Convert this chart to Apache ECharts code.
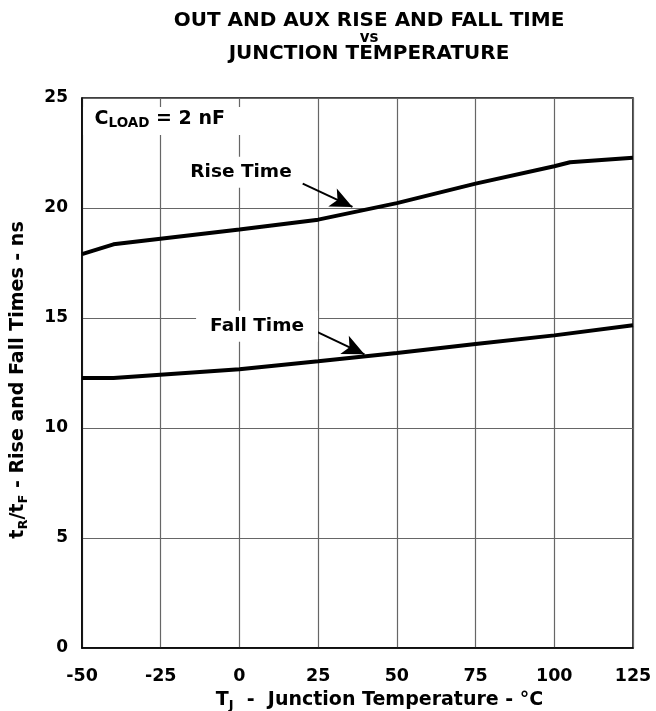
<!DOCTYPE html>
<html>
<head>
<meta charset="utf-8">
<script src="https://cdn.jsdelivr.net/npm/echarts@6/dist/echarts.min.js"></script>
<style>
html,body{margin:0;padding:0;background:#fff;}
#chart{width:656px;height:711px;}
</style>
</head>
<body>
<div id="chart"></div>
<script>
// Data
const temps = [-50, -40, 0, 25, 50, 75, 100, 105, 125];
const riseTime = [17.9, 18.35, 19.02, 19.47, 20.22, 21.11, 21.9, 22.08, 22.28];
const fallTemps = [-50, -40, 0, 25, 50, 75, 100, 125];
const fallTime = [12.27, 12.27, 12.67, 13.03, 13.41, 13.82, 14.21, 14.67];
const xTicks = [-50, -25, 0, 25, 50, 75, 100, 125];
const yTicks = [0, 5, 10, 15, 20, 25];

// annotation anchors (data coordinates)
const riseLabelAt = [0.5, 21.62];
const fallLabelAt = [5.6, 14.62];
const loadLabelAt = [-25.3, 24.05];
const loadBox = [[-49.6, 24.59], [5, 23.32]];
const riseArrow = [[20.1, 21.11], [35.9, 20.05]];
const fallArrow = [[24.3, 14.39], [39.7, 13.35]];

const FONT = '"DejaVu Sans", "Liberation Sans", Arial, sans-serif';
const chart = echarts.init(document.getElementById('chart'));

const annotLabel = {
  show: true, color: '#000', fontFamily: FONT, fontWeight: 'bold', fontSize: 18.5,
  backgroundColor: '#fff', padding: [6, 10]
};
const nameRich = {
  n: {fontFamily: FONT, fontWeight: 'bold', fontSize: 19, color: '#000', lineHeight: 24},
  s: {fontFamily: FONT, fontWeight: 'bold', fontSize: 13, color: '#000', lineHeight: 24, verticalAlign: 'bottom', padding: [9, 0, 0, 0]}
};

chart.setOption({
  animation: false,
  backgroundColor: '#fff',
  title: [
    {text: 'OUT AND AUX RISE AND FALL TIME', left: 364, top: 6, textAlign: 'center',
     textStyle: {fontFamily: FONT, fontWeight: 'bold', fontSize: 20, color: '#000'}},
    {text: 'vs', left: 364, top: 26, textAlign: 'center',
     textStyle: {fontFamily: FONT, fontWeight: 'bold', fontSize: 15, color: '#000'}},
    {text: 'JUNCTION TEMPERATURE', left: 364, top: 39, textAlign: 'center',
     textStyle: {fontFamily: FONT, fontWeight: 'bold', fontSize: 20, color: '#000'}}
  ],
  grid: {left: 82, right: 23, top: 98, bottom: 63, outerBoundsMode: 'none', containLabel: false,
         show: true, borderColor: '#000', borderWidth: 1.5, backgroundColor: 'transparent'},
  xAxis: {
    type: 'value', min: -50, max: 125, interval: 25,
    axisLine: {show: true, onZero: false, lineStyle: {color: '#000', width: 1.5}},
    axisTick: {show: false},
    splitLine: {show: true, lineStyle: {color: '#666', width: 1.2}},
    axisLabel: {
      color: '#000', fontFamily: FONT, fontWeight: 'bold', fontSize: 17.5, margin: 19,
      formatter: v => xTicks.includes(v) ? String(v) : ''
    },
    name: '{n|T}{s|J}{n|  -  Junction Temperature - °C}',
    nameLocation: 'middle', nameGap: 37,
    nameTextStyle: {color: '#000', fontFamily: FONT, fontWeight: 'bold', fontSize: 19, rich: nameRich, padding: [0, 0, 0, 44]}
  },
  yAxis: {
    type: 'value', min: 0, max: 25, interval: 5,
    axisLine: {show: true, onZero: false, lineStyle: {color: '#000', width: 1.5}},
    axisTick: {show: false},
    splitLine: {show: true, lineStyle: {color: '#666', width: 1.2}},
    axisLabel: {
      color: '#000', fontFamily: FONT, fontWeight: 'bold', fontSize: 17, margin: 14,
      formatter: v => yTicks.includes(v) ? String(v) : ''
    },
    name: '{n|t}{s|R}{n|/t}{s|F}{n| - Rise and Fall Times - ns}',
    nameLocation: 'middle', nameGap: 52, nameRotate: 90,
    nameTextStyle: {color: '#000', fontFamily: FONT, fontWeight: 'bold', fontSize: 19.5, rich: nameRich, padding: [0, 14, 0, 0]}
  },
  series: [
    {
      type: 'line', name: 'Rise Time', data: temps.map((t, i) => [t, riseTime[i]]),
      symbol: 'none', lineStyle: {color: '#000', width: 4}, z: 5,
      markArea: {
        silent: true, itemStyle: {color: '#fff'},
        data: [[{coord: loadBox[0]}, {coord: loadBox[1]}]]
      },
      markPoint: {
        symbol: 'rect', symbolSize: 1, itemStyle: {color: 'rgba(0,0,0,0)'},
        data: [
          {coord: riseLabelAt, label: Object.assign({}, annotLabel, {position: 'inside', formatter: 'Rise Time'})},
          {coord: loadLabelAt, label: {
            show: true, position: 'inside', backgroundColor: 'transparent',
            formatter: '{n|C}{s|LOAD}{n| = 2 nF}',
            rich: {
              n: {fontFamily: FONT, fontWeight: 'bold', fontSize: 19, color: '#000', lineHeight: 24},
              s: {fontFamily: FONT, fontWeight: 'bold', fontSize: 13.5, color: '#000', lineHeight: 24, verticalAlign: 'bottom', padding: [10, 0, 0, 0]}
            }
          }}
        ]
      },
      markLine: {
        silent: true, symbol: ['none', 'arrow'], symbolSize: [15, 22],
        lineStyle: {color: '#000', width: 2, type: 'solid'}, label: {show: false},
        data: [[{coord: riseArrow[0]}, {coord: riseArrow[1]}]]
      }
    },
    {
      type: 'line', name: 'Fall Time', data: fallTemps.map((t, i) => [t, fallTime[i]]),
      symbol: 'none', lineStyle: {color: '#000', width: 4}, z: 5,
      markPoint: {
        symbol: 'rect', symbolSize: 1, itemStyle: {color: 'rgba(0,0,0,0)'},
        data: [
          {coord: fallLabelAt, label: Object.assign({}, annotLabel, {position: 'inside', formatter: 'Fall Time', padding: [6, 14]})}
        ]
      },
      markLine: {
        silent: true, symbol: ['none', 'arrow'], symbolSize: [15, 22],
        lineStyle: {color: '#000', width: 2, type: 'solid'}, label: {show: false},
        data: [[{coord: fallArrow[0]}, {coord: fallArrow[1]}]]
      }
    }
  ]
});
</script>
</body>
</html>
